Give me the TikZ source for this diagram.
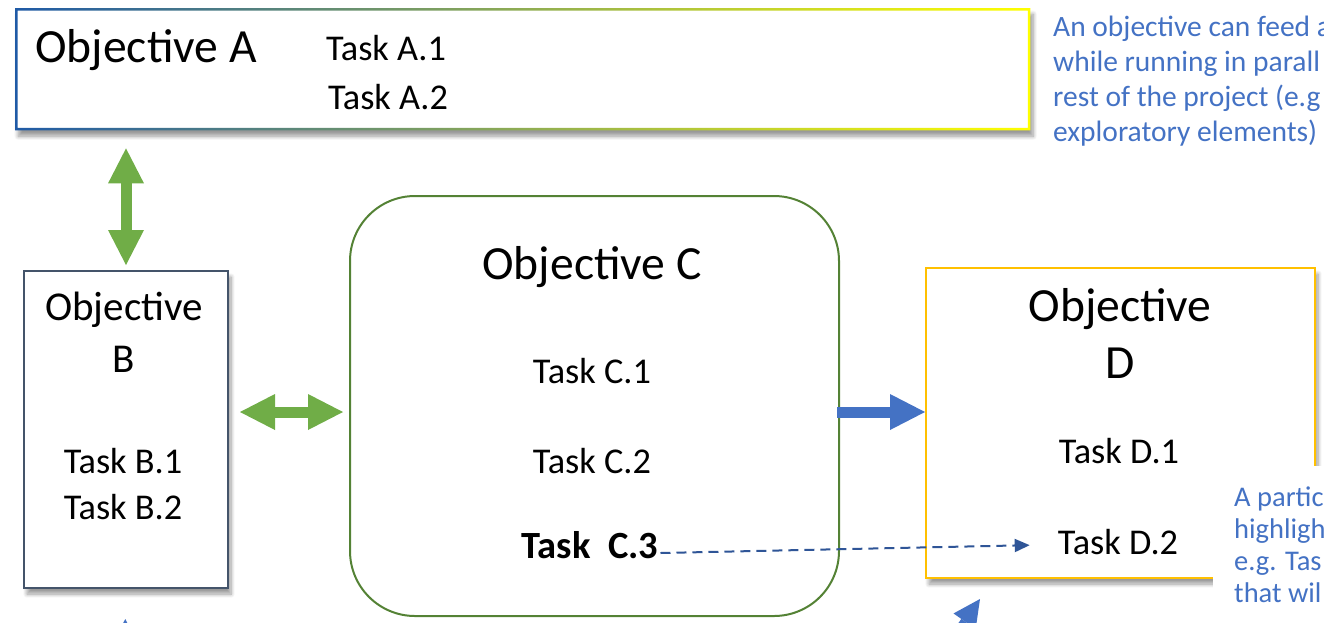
\documentclass[tikz,border=0pt]{standalone}
\usepackage{fontspec}
\setmainfont{Carlito}
\usetikzlibrary{arrows.meta,positioning,shadows.blur}

\definecolor{arrowgreen}{HTML}{70AD47}
\definecolor{boxgreen}{HTML}{548235}
\definecolor{slate}{HTML}{44546A}
\definecolor{gold}{HTML}{FFC000}
\definecolor{noteblue}{HTML}{4472C4}
\definecolor{dashblue}{HTML}{2F5597}
\definecolor{gradblue}{HTML}{1F5AA6}
\definecolor{gradyellow}{HTML}{FFFF00}

\begin{document}
\begin{tikzpicture}[
  x=1pt, y=-1pt,
  objfont/.style={font=\fontsize{47.6}{57}\selectfont},
  taskfont/.style={font=\fontsize{36.3}{44}\selectfont},
  txt/.style={anchor=base, inner sep=2pt},
  box/.style={anchor=north west, inner sep=0pt, fill=white},
  shadowed/.style={blur shadow={shadow xshift=3pt, shadow yshift=-6pt,
                   shadow blur steps=8, shadow blur radius=4pt}},
  note/.style={anchor=base west, inner sep=0pt, align=left, text=noteblue},
  fatgreen/.style={draw=arrowgreen, line width=11pt,
    {Triangle[length=35pt,width=36pt,line width=0pt]}-{Triangle[length=35pt,width=36pt,line width=0pt]}},
  fatblue/.style={draw=noteblue, line width=11pt,
    -{Triangle[length=35pt,width=36pt,line width=0pt]}}
]
  \useasboundingbox (0,0) rectangle (1324,622);
  \clip (0,0) rectangle (1324,622);

  % objective A with its shaded frame
  \node[box, shadowed, minimum width=1015pt, minimum height=122pt]
    (objA) at (15,8) {};
  \shade[left color=gradblue, right color=gradyellow, even odd rule]
    (objA.north west) rectangle (objA.south east)
    ([shift={(2.5,2.5)}]objA.north west) rectangle ([shift={(-2.5,-2.5)}]objA.south east);
  \node[txt, objfont] (titleA) at (146,62) {Objective A};
  \node[txt, taskfont] (taskA1) at (386,60) {Task A.1};
  \node[txt, taskfont] (taskA2) at (388,109) {Task A.2};

  % objective B
  \node[box, shadowed, draw=slate, line width=2pt,
        minimum width=204pt, minimum height=317pt] (objB) at (23,270) {};
  \node[txt, font=\fontsize{41}{49}\selectfont] (titleB) at (124,320) {Objective};
  \node[txt, font=\fontsize{41}{49}\selectfont] (letterB) at (124,372) {B};
  \node[txt, taskfont] (taskB1) at (123,473) {Task B.1};
  \node[txt, taskfont] (taskB2) at (123,519) {Task B.2};

  % objective C
  \node[box, draw=boxgreen, line width=2pt, rounded corners=65pt,
        minimum width=489pt, minimum height=420pt] (objC) at (349,195) {};
  \node[txt, objfont] (titleC) at (592,279) {Objective C};
  \node[txt, taskfont] (taskC1) at (592,383) {Task C.1};
  \node[txt, taskfont] (taskC2) at (592,473) {Task C.2};
  \node[txt, font=\fontsize{38.5}{46}\selectfont\bfseries] (taskC3) at (590,558) {Task~~C.3};

  % objective D
  \node[box, shadowed, draw=gold, line width=2pt,
        minimum width=389pt, minimum height=310pt] (objD) at (925,267) {};
  \node[txt, objfont] (titleD) at (1120,321) {Objective};
  \node[txt, objfont] (letterD) at (1120,378) {D};
  \node[txt, taskfont] (taskD1) at (1119,463) {Task D.1};
  \node[txt, taskfont] (taskD2) at (1118,554) {Task D.2};

  % links between objectives
  \coordinate (lvl) at (0,412);
  \draw[fatgreen, shorten <=18pt, shorten >=5pt]
    (objB.north |- objA.south) -- (objB.north);
  \draw[fatgreen, shorten <=11pt, shorten >=6pt]
    (objB.east |- lvl) -- (objC.west |- lvl);
  \draw[fatblue, shorten <=-3pt] (objC.east |- lvl) -- (objD.west |- lvl);
  \draw[dashblue, line width=2pt, dash pattern=on 10pt off 6pt,
        -{Triangle[length=15pt,width=13pt]}, shorten >=26pt]
    ([yshift=5pt]taskC3.base east) -- ([yshift=7pt]taskD2.mid west);

  % arrows coming in from below
  \coordinate (srcB) at (123,720);
  \draw[fatblue, shorten >=30pt] (srcB) -- (objB.south);
  \coordinate (srcD) at (900,714);
  \coordinate (tipD) at (980,599);
  \draw[draw=noteblue, line width=8pt,
        -{Triangle[length=27pt,width=27pt,line width=0pt]}] (srcD) -- (tipD);

  % side notes (base west = baseline of the last line)
  \node[note, font=\fontsize{29.5}{35}\selectfont] (noteA) at (1053,141)
    {An objective can feed a\\while running in parall\\rest of the project (e.g\\exploratory elements)};
  \fill[white] (1213,466) rectangle (1330,630);
  \node[note, font=\fontsize{28.5}{31.7}\selectfont] (noteD) at (1234,602)
    {A partic\\highligh\\e.g. Tas\\that wil};
\end{tikzpicture}
\end{document}
